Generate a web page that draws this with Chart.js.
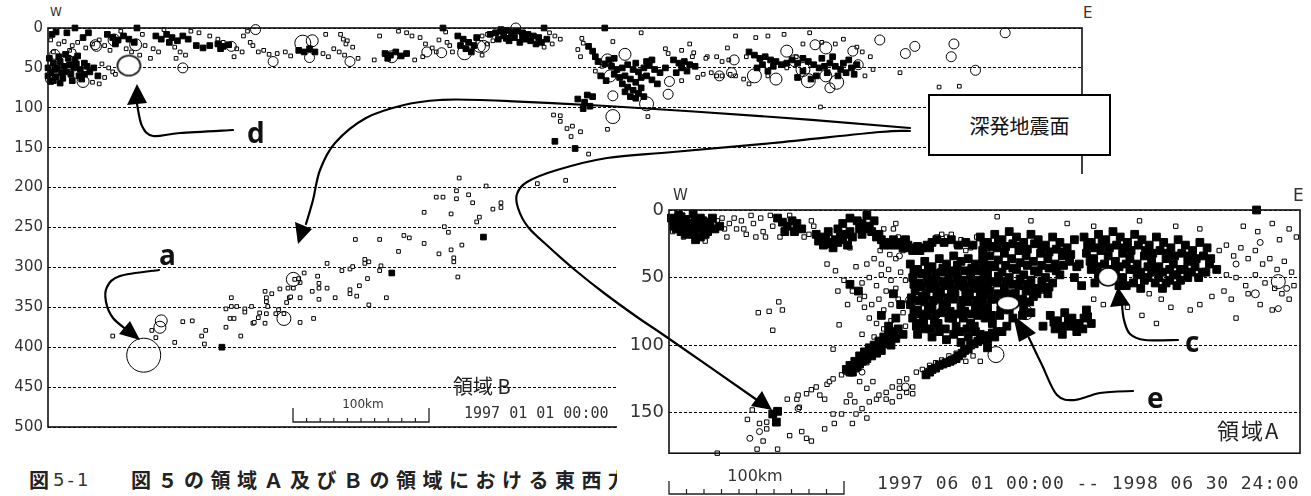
<!DOCTYPE html>
<html lang="ja">
  <head>
    <meta charset="UTF-8" />
    <script src="https://cdn.jsdelivr.net/npm/chart.js@4.4.0/dist/chart.umd.min.js"></script>
    <title>領域A・B 東西断面</title>
    <style>
      body { margin: 0; background: #fff; }
      #page { position: relative; width: 1311px; height: 496px; overflow: hidden; background: #fff; }
      .abs { position: absolute; white-space: nowrap; line-height: 1; color: #222; }
      .cjk { font-family: "Noto Sans CJK JP", sans-serif; }
      .mono { font-family: "DejaVu Sans Mono", monospace; color: #333; }
      .lbl { font-family: "DejaVu Sans", sans-serif; color: #333; }
      .tag { font-family: "Open Sans", sans-serif; font-weight: 700; font-size: 28px; color: #111; z-index: 6; }
      #inset { position: absolute; left: 617px; top: 174px; width: 694px; height: 322px; background: #fff; z-index: 3; }
      #box { position: absolute; left: 928px; top: 94px; width: 179px; height: 58px; border: 2px solid #000; background: #fff;
             z-index: 2; display: flex; align-items: center; justify-content: center; font-size: 20px; color: #111; }
      svg { position: absolute; left: 0; top: 0; z-index: 5; }
    </style>
  </head>
  <body>
    <div id="page">
      <canvas id="chartB" width="1100" height="445" style="position:absolute;left:0;top:0;z-index:1"></canvas>
      <div class="abs lbl" style="left:50px;top:6px;font-size:12px">W</div>
      <div class="abs lbl" style="left:1083px;top:6px;font-size:15px">E</div>
      <div class="abs cjk" style="left:453px;top:376px;font-size:20px;z-index:2">領域 B</div>
      <div class="abs lbl" style="left:340px;top:398px;width:46px;text-align:center;font-size:12px;z-index:2">100km</div>
      <div class="abs mono" style="left:464px;top:406px;font-size:15px;z-index:2">1997 01 01 00:00</div>
      <div class="abs cjk" style="left:29px;top:470px;font-size:20px;font-weight:700;z-index:2">図</div>
      <div class="abs lbl" style="left:53px;top:471px;font-size:18px;letter-spacing:3px;z-index:2">5-1</div>
      <div class="abs cjk" style="left:131px;top:470px;font-size:20px;font-weight:700;letter-spacing:6.5px;z-index:2">図５の領域Ａ及びＢの領域における東西方</div>
      <div id="box" class="cjk">深発地震面</div>

      <div id="inset">
        <canvas id="chartA" width="694" height="295" style="position:absolute;left:0;top:0"></canvas>
        <div class="abs lbl" style="left:56px;top:14px;font-size:15px">W</div>
        <div class="abs lbl" style="left:676px;top:13px;font-size:17px">E</div>
        <div class="abs cjk" style="left:600px;top:244px;font-size:22px;letter-spacing:2px">領域A</div>
        <div class="abs lbl" style="left:108px;top:294px;width:60px;text-align:center;font-size:16px">100km</div>
        <div class="abs mono" style="left:260px;top:300px;font-size:18px;letter-spacing:0.9px">1997 06 01 00:00 -- 1998 06 30 24:00</div>
      </div>

      <div class="abs tag" style="left:247px;top:118px">d</div>
      <div class="abs tag" style="left:159px;top:240px">a</div>
      <div class="abs tag" style="left:1185px;top:327px">c</div>
      <div class="abs tag" style="left:1147px;top:383px">e</div>
      <svg id="marks" width="1311" height="496"></svg>
    </div>

    <script>
      // ---- 領域B : [distance km, depth km] ----
      const B_DEPTH_TICKS = [0, 50, 100, 150, 200, 250, 300, 350, 400, 450, 500];
      const B_DENSE = [
        [1,38],[4,44],[7,50],[2,56],[9,42],[12,48],[14,55],[6,61],[11,63],[17,58],[19,50],[21,45],[24,52],[27,58],
        [29,48],[15,38],[4,66],[18,66],[25,64],[31,55],[34,50],[37,60],[20,40],[9,69],[27,44],[0,50],[0,60],[2,67],
        [13,33],[22,35],[8,36],[5,52],[16,46],[23,60],[10,56],
        [3,8],[6,5],[14,6],[26,12],[30,6],[44,8],[48,12],[52,15],[56,10],[60,14],[64,18],[50,20],[80,10],[84,14],
        [88,8],[92,12],[96,16],[100,10],[104,14],[90,18],[110,22],[115,25],[120,22],[126,20],[130,23],[134,21],
        [128,26],[186,28],[190,30],[194,26],[198,30],[250,32],[254,34],[258,30],[262,35],[266,32],[252,38],
        [20,0],[66,0],[293,0],[368,0],[413,0],
        [304,10],[308,14],[312,18],[316,22],[310,26],[318,12],[306,22],[314,30],
        [328,8],[332,6],[336,4],[340,3],[344,5],[348,4],[352,6],[356,8],[360,10],[364,12],[338,10],[346,12],
        [354,14],[342,16],[350,18],[358,16],[334,14],[366,18],[362,20],[370,14],[336,2],[344,9],[352,11],[340,13],
        [393,89],[398,93],[402,98],[397,101],[404,86],[400,84],
        [413,45],[418,48],[422,52],[426,50],[430,46],[434,52],[438,55],[442,50],[446,47],[450,52],[454,56],[458,50],
        [420,58],[424,62],[428,60],[432,64],[436,68],[440,62],[444,60],[448,65],[452,70],[426,70],[430,74],[434,78],
        [438,82],[428,80],[440,75],[416,40],[420,38],[444,42],[448,40],[436,44],[442,86],[436,88],[432,86],[410,60],
        [414,66],[401,23],[404,29],[406,36],[408,42],
        [464,40],[468,44],[472,42],[476,46],[480,48],[470,50],[474,54],[466,56],
        [520,30],[524,34],[528,38],[532,36],[536,40],[540,42],[530,46],[538,48],[526,50],[534,54],[544,46],[548,44],
        [552,40],[556,44],[560,38],[564,42],[568,46],[572,50],[576,48],[580,44],[584,48],[588,52],[592,56],[596,50],
        [600,46],[578,56],[570,60],[586,60],[590,44],[574,38],[582,36],[594,40],[598,58],[560,54],[556,62],[566,64],
        [129,400],[255,307],[323,262],[376,142],[391,151]
      ];
      const B_SQUARES = [
        [2,15],[8,20],[12,17],[18,22],[22,18],[28,25],[33,20],[38,15],[16,28],[4,30],[40,45],[45,50],[48,55],[50,58],
        [42,62],[55,53],[33,68],[38,70],[60,56],[42,22],[46,28],[58,26],[62,30],[70,8],[72,22],[68,34],[54,4],[78,26],
        [82,30],[94,24],[98,30],[102,34],[112,6],[120,10],[126,14],[130,18],[106,4],[86,2],[76,38],[95,38],[140,26],
        [144,30],[150,18],[156,30],[160,28],[164,33],[148,4],[170,32],[138,36],[145,10],[152,22],[176,30],[180,35],
        [204,32],[208,36],[212,26],[216,30],[220,34],[226,24],[222,16],[230,38],[206,8],[217,8],[219,14],[221,20],
        [246,10],[270,10],[276,12],[280,20],[285,25],[288,30],[272,40],[278,36],[242,40],[290,15],[295,5],[298,22],
        [260,4],[266,6],[300,30],[322,34],[326,8],[330,16],[296,18],[372,6],[376,10],[380,14],[374,20],[326,20],
        [368,24],[322,10],[440,6],[419,17],[396,13],[397,19],[393,27],[395,36],[411,48],[406,54],[479,31],[489,36],
        [496,36],[504,25],[486,58],[492,56],[496,60],[482,62],[478,36],[488,38],[500,42],[505,40],[460,32],[458,26],
        [470,28],[476,20],[470,66],[500,60],[510,60],[518,36],[528,40],[534,60],[548,50],[555,36],[510,10],[525,12],
        [534,10],[546,8],[560,20],[565,6],[574,18],[584,20],[590,14],[600,24],[604,30],[610,36],[606,60],[612,52],
        [516,64],[520,70],[506,58],[632,56],[661,74],[676,73],[573,99],
        [375,109],[380,110],[380,117],[385,126],[389,123],[395,130],[388,136],[401,158],[415,127],[445,111],
        [279,231],[288,212],[228,265],[246,265],[264,260],[268,263],[279,270],[305,188],[303,204],[293,212],[303,214],
        [312,209],[315,219],[336,219],[336,225],[325,198],[330,227],[299,233],[320,237],[318,243],[294,249],[297,256],
        [307,272],[363,195],[384,191],
        [48,386],[77,379],[80,388],[94,394],[100,368],[107,367],[114,386],[117,379],[116,396],[132,375],[132,352],
        [136,338],[136,349],[140,349],[146,352],[146,356],[151,349],[143,386],[135,364],[138,364],[152,370],[153,369],
        [156,363],[157,357],[161,370],[162,343],[162,338],[161,330],[166,333],[172,327],[175,358],[171,353],[169,358],
        [162,358],[163,349],[179,338],[180,337],[177,344],[178,326],[182,326],[187,338],[187,369],[187,319],[183,315],
        [186,314],[190,307],[200,311],[196,330],[197,364],[201,340],[201,320],[201,326],[207,326],[207,295],[213,338],
        [218,304],[224,302],[224,328],[224,333],[226,299],[229,336],[231,323],[235,295],[235,290],[237,314],[238,347],
        [238,293],[246,304],[247,298],[251,338],[260,280],[290,283],[299,278],[301,288],[301,293],[304,312]
      ];
      // [distance, depth, radius px]
      const B_CIRCLES = [
        [5,33,5],[18,31,4],[26,67,6],[35,21,5],[49,15,6],[36,23,5],[65,21,6],[1,64,4],[100,50,5],[136,23,5],[189,19,8],
        [196,16,6],[194,37,5],[167,42,5],[224,42,5],[255,36,6],[281,30,5],[154,2,5],[292,31,5],[309,31,7],[323,23,6],
        [347,0,5],[320,23,6],[415,40,6],[417,60,6],[428,33,6],[461,67,5],[460,83,5],[444,95,7],[419,85,5],[419,111,7],
        [498,60,5],[507,56,5],[509,40,5],[524,60,7],[540,64,6],[548,29,6],[554,41,6],[560,52,7],[564,66,7],[577,25,6],
        [577,60,6],[585,68,7],[580,75,5],[569,21,5],[597,29,5],[601,46,5],[617,15,5],[636,32,5],[643,23,5],[672,20,5],
        [670,36,5],[710,6,5],[688,53,5],
        [71,410,17],[84,367,6],[83,375,6],[175,364,7],[182,315,7]
      ];
      const B_EVENT_D = [[60,47]];

      // ---- 領域A : [distance, depth km] ----
      const A_DEPTH_TICKS = [0, 50, 100, 150];
      const A_DENSE = [
        [2,6],[6,8],[10,5],[14,7],[18,10],[22,8],[26,6],[30,9],[8,12],[12,14],[16,16],[20,18],[24,14],[28,12],[32,16],
        [4,12],[20,3],[34,10],[38,14],[42,12],[26,20],[22,22],[36,6],
        [4,8],[8,4],[12,10],[16,12],[24,10],[28,8],[32,12],[18,14],[14,18],[10,16],[6,14],[30,18],
        [90,6],[94,9],[98,12],[102,8],[106,10],[110,14],[96,16],[104,16],
        [122,18],[126,20],[130,22],[134,24],[138,22],[128,26],[136,28],[142,20],[146,18],[150,16],[140,14],[132,16],
        [144,10],[150,6],[148,26],
        [156,8],[160,10],[164,12],[160,18],[168,16],[172,20],[176,22],[180,24],[184,26],[170,8],[164,4],
        [190,26],[194,28],[198,26],[202,30],[206,27],[210,28],[196,22],[214,26],[218,24],
        [222,22],[228,24],[234,22],[240,26],[246,24],[252,26],
        [124,23],[132,25],[140,24],[144,22],[152,20],[158,14],[166,14],[174,18],[178,26],[186,22],[192,24],[200,28],
        [208,30],[216,28],
        [86,151],[90,149],[89,157],[150,55],[157,60],
        [147,118],[150,115],[154,112],[158,108],[162,105],[166,102],[170,100],[174,97],[178,94],[182,92],[186,90],
        [190,88],[160,112],[168,108],[176,104],[184,100],[152,120],[156,116],[164,110],[172,106],[180,98],[188,95],
        [150,120],[154,117],[158,114],[162,111],[166,107],[170,104],[174,101],[178,99],[182,96],[186,93],
        [213,122],[218,118],[224,115],[230,113],[235,111],[240,108],[245,104],[250,100],[256,97],[262,94],[268,91],
        [216,120],[221,117],[227,114],[233,112],[238,110],[243,106],[248,103],[253,99],[259,96],[265,93],
        [186,62],[192,70],[188,80],[194,92],[176,78],[182,86],
        [200,40],[206,44],[212,38],[218,42],[224,36],[230,40],[236,34],[242,38],[248,36],[254,40],[260,36],[264,42],
        [202,50],[208,54],[214,48],[220,52],[226,46],[232,50],[238,46],[244,52],[250,48],[256,52],[262,48],
        [204,60],[210,64],[216,58],[222,62],[228,56],[234,60],[240,56],[246,62],[252,58],[258,62],[264,56],
        [200,70],[206,74],[212,68],[218,72],[224,66],[230,70],[236,66],[242,72],[248,68],[254,72],[260,66],
        [202,80],[208,84],[214,78],[220,82],[226,76],[232,80],[238,86],[244,80],[250,84],[256,78],
        [206,92],[212,88],[218,94],[224,90],[230,96],[236,92],[242,98],[248,94],[254,90],[260,96],[264,102],
        [203,45],[209,47],[215,43],[221,47],[227,43],[233,45],[239,41],[245,45],[251,43],[257,45],[263,47],
        [203,55],[209,57],[215,53],[221,57],[227,53],[233,55],[239,51],[245,57],[251,53],[257,57],[263,51],
        [201,65],[207,67],[213,63],[219,67],[225,61],[231,65],[237,61],[243,67],[249,63],[255,67],[261,61],
        [203,75],[209,77],[215,73],[221,77],[227,71],[233,75],[239,77],[245,75],[251,77],[257,71],
        [205,86],[211,82],[217,88],[223,84],[229,88],[235,80],[241,90],[247,88],[253,86],
        [258,20],[264,24],[270,18],[276,22],[282,16],[288,20],[294,24],[300,18],[306,22],[312,26],[318,20],[324,24],
        [330,28],[336,22],
        [260,30],[266,34],[272,28],[278,32],[284,36],[290,30],[296,34],[302,38],[308,32],[314,36],[320,40],[326,34],
        [332,38],[338,42],
        [258,44],[264,48],[270,42],[276,46],[282,50],[288,44],[294,48],[300,52],[306,46],[312,50],[318,54],[324,48],
        [260,56],[266,60],[272,54],[278,58],[284,62],[290,56],[296,60],[302,64],[308,58],[314,62],
        [258,68],[264,72],[270,66],[276,70],[282,74],[288,68],[294,72],[300,76],
        [262,80],[268,84],[274,78],[280,86],[272,90],
        [261,25],[267,27],[273,23],[279,27],[285,25],[291,27],[297,29],[303,25],[309,27],[315,31],[321,29],[327,31],
        [333,33],
        [261,39],[267,41],[273,37],[279,41],[285,43],[291,39],[297,41],[303,45],[309,41],[315,43],[321,45],[327,41],
        [261,51],[267,53],[273,49],[279,53],[285,55],[291,51],[297,55],[303,58],[309,53],[315,57],
        [261,62],[267,66],[273,62],[279,64],[287,62],[293,66],[299,68],[305,62],
        [261,75],[267,78],[275,74],[285,80],[293,78],
        [316,78],[322,82],[328,76],[334,80],[340,84],[320,88],[326,92],[332,86],[338,90],[344,80],[350,84],[346,74],
        [310,86],[258,92],[264,96],[270,94],[276,90],
        [319,83],[325,86],[331,81],[337,85],[343,88],[347,79],
        [344,20],[350,24],[356,18],[362,22],[368,16],[374,20],[380,24],[386,18],[392,22],[398,26],[404,20],[410,24],
        [416,28],[422,22],[428,26],[434,30],[440,24],[446,28],
        [346,32],[352,36],[358,30],[364,34],[370,38],[376,32],[382,36],[388,40],[394,34],[400,38],[406,42],[412,36],
        [418,40],[424,44],[430,38],[436,42],[442,46],[448,40],[454,44],
        [350,44],[356,48],[370,46],[376,50],[382,44],[388,48],[394,52],[400,46],[406,50],[412,54],[418,48],[424,52],
        [430,50],[340,40],[336,50],[342,56],[487,0],
        [347,26],[353,28],[359,24],[365,28],[371,26],[377,28],[383,30],[389,26],[395,30],[401,32],[407,30],[413,32],
        [419,34],[425,32],[431,34],[437,36],[443,34],[449,36],
        [349,38],[355,42],[361,40],[367,44],[373,42],[379,40],[385,44],[391,46],[397,42],[403,44],[409,46],[415,44],
        [421,48],[427,44],[433,46],[439,50],[445,46],
        [353,54],[373,56],[379,56],[385,54],[391,58],[397,50],[403,54],[409,58],[415,52],[421,56]
      ];
      const A_SQUARES = [
        [40,8],[44,6],[46,14],[48,20],[30,23],[12,20],[50,10],[54,6],[56,14],[3,16],[60,8],[62,14],[64,18],[70,10],
        [72,20],[78,16],[76,6],[84,4],[86,12],[80,20],[112,20],[116,18],[118,8],[68,4],[186,14],[188,10],[190,20],
        [178,14],[222,20],[226,18],[230,20],[234,18],[238,26],[242,22],[246,30],[250,28],[255,20],[260,24],[264,32],
        [272,5],[150,28],[120,12],[92,20],[100,4],[175,30],[183,33],
        [74,76],[83,75],[94,74],[91,68],[86,89],[131,40],[155,42],[141,85],[136,103],
        [138,45],[145,52],[152,60],[158,66],[162,72],[148,70],[140,60],
        [160,54],[166,50],[172,56],[176,48],[180,60],[184,52],[188,58],[192,46],[196,52],[162,64],[168,70],[174,66],
        [178,74],[184,70],[190,66],[194,76],[166,80],[172,84],[178,88],[184,82],[190,90],[196,86],[160,92],[170,94],
        [180,100],[164,40],[170,36],[176,40],[182,44],[188,36],[194,30],
        [69,148],[65,155],[75,158],[81,157],[81,162],[78,171],[73,177],[90,177],[100,167],[110,164],[114,169],
        [118,171],[40,180],[98,140],[106,140],[108,146],[107,137],[114,136],[118,133],[122,131],[125,137],[131,129],
        [133,127],[136,125],[129,140],[136,151],[137,158],[129,162],[143,151],[147,142],[150,137],[143,122],[147,120],
        [151,119],[154,115],[158,111],[160,108],[164,113],[169,106],[172,103],[158,127],[164,132],[169,127],[154,142],
        [160,147],[164,154],[155,151],[152,158],
        [166,142],[172,140],[174,137],[180,140],[185,142],[191,138],[197,135],[202,131],[180,135],[185,131],[191,127],
        [197,125],[205,120],[210,118],[216,115],[221,113],[226,111],[232,108],[238,106],[202,136],[191,132],[252,108],
        [258,112],[246,112],
        [456,30],[462,26],[468,34],[474,28],[480,36],[486,30],[492,40],[498,36],[504,44],[510,38],[516,46],[470,50],
        [478,56],[486,48],[494,54],[502,58],[508,62],[514,66],[518,56],[460,60],[466,66],[490,70],[500,74],[520,20],
        [514,14],[506,22],[476,12],[488,16],[500,10],[462,48],[450,64],[440,70],[432,74],[408,66],[416,72],[398,62],
        [392,78],[372,66],[380,72],[404,84],[470,80],[480,62],[330,10],[352,12],[390,8],[420,12],[440,14],[300,8],
        [310,60],[352,66],[360,70]
      ];
      const A_CIRCLES = [
        [201,67,6],[191,34,3],[107,147,3],[75,164,3],[67,169,3],[505,53,7],[486,62,4],[505,73,3],[296,76,7],
        [271,107,8],[470,40,3],[490,24,3],[512,58,3],[160,120,3],[196,131,4]
      ];
      const A_EVENT_C = [[364,49.5]];
      const A_EVENT_E = [[281,69]];

      const toXY = arr => arr.map(p => ({ x: p[0], y: p[1] }));
      const toXYR = arr => arr.map(p => ({ x: p[0], y: p[1], r: p[2] }));

      // white ellipse marker for the labelled events
      const ellipse = (w, h) => {
        const c = document.createElement("canvas");
        c.width = w + 4; c.height = h + 4;
        const g = c.getContext("2d");
        g.beginPath();
        g.ellipse(c.width / 2, c.height / 2, w / 2, h / 2, 0, 0, Math.PI * 2);
        g.fillStyle = "#fff"; g.fill();
        g.lineWidth = 1.6; g.strokeStyle = "#000"; g.stroke();
        return c;
      };

      const squares = (data, r) => ({
        data: toXY(data), pointStyle: "rect", pointRadius: r, pointBorderWidth: 1,
        pointBackgroundColor: "#fff", pointBorderColor: "#000", clip: false
      });
      const dense = (data, r) => ({
        data: toXY(data), pointStyle: "rect", pointRadius: r, pointBorderWidth: 1,
        pointBackgroundColor: "#000", pointBorderColor: "#000", clip: false
      });
      const circles = data => ({
        type: "bubble", data: toXYR(data), backgroundColor: "rgba(0,0,0,0)",
        borderColor: "#000", borderWidth: 1, clip: false
      });
      const event = (data, img) => ({ data: toXY(data), pointStyle: img, pointRadius: 10, clip: false });

      const framePlugin = {
        id: "frame",
        afterDraw(chart) {
          const { ctx, chartArea: a } = chart;
          ctx.save();
          ctx.strokeStyle = "#111";
          ctx.lineWidth = 1.6;
          ctx.strokeRect(a.left, a.top, a.right - a.left, a.bottom - a.top);
          ctx.restore();
        }
      };

      const makeChart = (id, sets, o) => new Chart(document.getElementById(id), {
        type: "scatter",
        data: { datasets: sets },
        plugins: [framePlugin],
        options: {
          responsive: false, animation: false, devicePixelRatio: 1,
          events: [],
          layout: { padding: { top: o.top, right: 9, bottom: 12, left: 0 } },
          plugins: { legend: { display: false }, tooltip: { enabled: false } },
          scales: {
            x: { type: "linear", min: 0, max: o.xMax, display: false },
            y: {
              type: "linear", reverse: true, min: 0, max: o.yMax,
              afterFit: s => { s.width = o.axisW; },
              afterBuildTicks: s => { s.ticks = o.ticks.map(v => ({ value: v })); },
              ticks: { color: "#333", padding: 5, font: { family: "DejaVu Sans", size: o.font } },
              grid: { color: "#000", lineWidth: 1, drawTicks: false },
              border: { display: false, dash: [3, 2] }
            }
          }
        }
      });

      makeChart("chartB", [
        event(B_EVENT_D, ellipse(23, 20)),
        circles(B_CIRCLES),
        dense(B_DENSE, 4),
        squares(B_SQUARES, 2.6)
      ], { top: 28, xMax: 767, yMax: 500, axisW: 48, ticks: B_DEPTH_TICKS, font: 15 });

      makeChart("chartA", [
        event(A_EVENT_C, ellipse(20, 18)),
        event(A_EVENT_E, ellipse(22, 14)),
        circles(A_CIRCLES),
        dense(A_DENSE, 5.5),
        squares(A_SQUARES, 3.1)
      ], { top: 36, xMax: 523, yMax: 180, axisW: 52, ticks: A_DEPTH_TICKS, font: 18 });

      // ---- arrows, scale bars (page annotation layer) ----
      const svg = document.getElementById("marks");
      const NS = "http://www.w3.org/2000/svg";
      const add = (tag, attrs) => {
        const el = document.createElementNS(NS, tag);
        for (const k in attrs) el.setAttribute(k, attrs[k]);
        svg.appendChild(el);
      };
      const smooth = pts => {
        let d = `M${pts[0][0]},${pts[0][1]}`;
        for (let i = 0; i < pts.length - 1; i++) {
          const p0 = pts[i - 1] || pts[i], p1 = pts[i], p2 = pts[i + 1], p3 = pts[i + 2] || p2;
          const c1 = [p1[0] + (p2[0] - p0[0]) / 6, p1[1] + (p2[1] - p0[1]) / 6];
          const c2 = [p2[0] - (p3[0] - p1[0]) / 6, p2[1] - (p3[1] - p1[1]) / 6];
          d += ` C${c1[0]},${c1[1]} ${c2[0]},${c2[1]} ${p2[0]},${p2[1]}`;
        }
        return d;
      };
      const arrow = (pts, head) => {
        add("path", { d: smooth(pts), fill: "none", stroke: "#000", "stroke-width": 2.2, "stroke-linecap": "round" });
        add("polygon", { points: head.map(p => p.join(",")).join(" "), fill: "#000" });
      };

      arrow([[233,130],[180,133],[153,136],[142,126],[137,104]], [[137,84],[127,105],[147,103]]);
      arrow([[159,270],[120,276],[107,287],[106,302],[113,318],[127,330]], [[140,340],[119,334],[130,321]]);
      arrow([[910,128],[773,117],[607,106],[480,100],[440,100],[404,105],[366,118],[335,143],[320,170],[313,200],[306,224]],
            [[298,244],[295,222],[312,229]]);
      arrow([[910,131],[880,132],[773,143],[673,152],[607,158],[557,170],[527,182],[517,194],[518,208],[528,227],
             [550,248],[575,270],[604,293],[637,317],[668,338],[757,400]],
            [[772,410],[751,406],[762,391]]);
      arrow([[1178,340],[1145,340],[1130,334],[1124,320],[1122,305]], [[1118,287],[1110,307],[1130,305]]);
      arrow([[1133,391],[1100,393],[1075,400],[1057,395],[1042,365],[1029,338]], [[1013,315],[1036,333],[1019,342]]);

      const scaleBar = (x0, x1, y, endH, tickH) => {
        add("path", { d: `M${x0},${y - endH} V${y} H${x1} V${y - endH}`, fill: "none", stroke: "#222", "stroke-width": 1.3 });
        for (let i = 1; i < 10; i++) {
          const x = x0 + (x1 - x0) * i / 10;
          add("line", { x1: x, y1: y, x2: x, y2: y - tickH, stroke: "#222", "stroke-width": 1.2 });
        }
      };
      scaleBar(293, 429, 422, 14, 4);
      scaleBar(669, 844, 494, 13, 5);
    </script>
  </body>
</html>
